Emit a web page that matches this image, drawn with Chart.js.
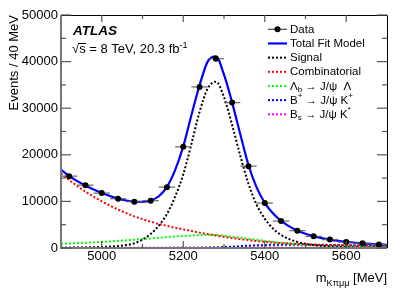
<!DOCTYPE html>
<html>
<head>
<meta charset="utf-8">
<script src="https://cdn.jsdelivr.net/npm/chart.js@4.4.1/dist/chart.umd.min.js"></script>
<style>
  html, body { margin: 0; padding: 0; background: #fff; }
  #wrap { width: 407px; height: 292px; }
</style>
</head>
<body>
<div id="wrap"><canvas id="grafico" width="407" height="292"></canvas></div>
<script>
  // Data points: bin centres (MeV) and events per 40 MeV bin
  const binCenters = [4920, 4960, 5000, 5040, 5080, 5120, 5160, 5200, 5240, 5280,
                      5320, 5360, 5400, 5440, 5480, 5520, 5560, 5600, 5640, 5680];
  const dataEvents = [15420, 13490, 11780, 10580, 9930, 10150, 13060, 21710, 34560, 40620,
                      31200, 17560, 9640, 5780, 3720, 2500, 1800, 1280, 1000, 730];
  const binHalfWidth = 20;

  // Fit components, every 20 MeV
  const curveMass = [4900, 4920, 4940, 4960, 4980, 5000, 5020, 5040, 5060, 5080,
                     5100, 5120, 5140, 5160, 5180, 5200, 5220, 5240, 5260, 5280,
                     5300, 5320, 5340, 5360, 5380, 5400, 5420, 5440, 5460, 5480,
                     5500, 5520, 5540, 5560, 5580, 5600, 5620, 5640, 5660, 5680, 5700];
  const totalFit = [16800, 15450, 14350, 13400, 12550, 11800, 11150, 10600, 10200, 9950,
                    9900, 10200, 11100, 13100, 16700, 21800, 28500, 34900, 40000, 41100,
                    37200, 31200, 24400, 17800, 13000, 9700, 7450, 5800, 4650, 3750,
                    3050, 2520, 2120, 1800, 1520, 1300, 1130, 990, 870, 760, 680];
  const signal = [60, 80, 100, 130, 170, 220, 300, 420, 620, 1000,
                  1800, 3000, 4800, 7300, 11000, 15800, 22300, 29200, 34200, 35700,
                  32400, 26400, 19800, 13800, 9300, 6300, 4200, 2800, 1900, 1300,
                  900, 620, 450, 330, 250, 190, 150, 120, 100, 80, 70];
  const combinatorial = [16000, 14600, 13300, 12100, 11000, 10000, 9100, 8250, 7500, 6800,
                         6200, 5650, 5150, 4750, 4350, 4000, 3650, 3300, 3000, 2700,
                         2400, 2150, 1900, 1700, 1500, 1330, 1180, 1060, 960, 880,
                         810, 750, 700, 660, 630, 600, 580, 560, 540, 520, 500];
  const lambdaB = [900, 970, 1050, 1130, 1220, 1320, 1420, 1530, 1650, 1780,
                   1920, 2060, 2200, 2340, 2470, 2580, 2680, 2760, 2800, 2780,
                   2650, 2450, 2220, 1980, 1750, 1530, 1320, 1130, 960, 820,
                   700, 600, 510, 430, 370, 320, 270, 230, 200, 170, 150];
  const bPlus = [0, 0, 0, 0, 0, 0, 0, 0, 0, 0,
                 0, 0, 0, 0, 0, 0, 0, 20, 60, 120,
                 200, 300, 400, 500, 580, 640, 680, 700, 700, 690,
                 670, 650, 630, 610, 590, 570, 550, 530, 510, 490, 470];
  const bS = [30, 30, 35, 35, 40, 40, 45, 50, 55, 60,
              65, 70, 75, 80, 85, 90, 95, 100, 105, 110,
              110, 110, 105, 100, 95, 90, 85, 80, 75, 70,
              65, 60, 55, 50, 45, 40, 38, 36, 34, 32, 30];

  // Axes
  const xMin = 4900, xMax = 5700;
  const yMin = 0, yMax = 50000;
  const xTicks = [5000, 5200, 5400, 5600];
  const xMinorTicks = [5100, 5300, 5500];
  const yTicks = [0, 10000, 20000, 30000, 40000, 50000];
  const yMinorTicks = [5000, 15000, 25000, 35000, 45000];
  const xTitle = "m_{Kπμμ} [MeV]";
  const yTitle = "Events / 40 MeV";

  // Labels
  const atlasLabel = "ATLAS";
  const energyLabel = "s = 8 TeV, 20.3 fb^{-1}";
  const legendLabels = ["Data", "Total Fit Model", "Signal", "Combinatorial",
                        "Λ_{b} → J/ψ  Λ", "B^{+} → J/ψ K^{+}", "B_{s} → J/ψ K^{*}"];
  const legendColors = ["#000000", "#0000ff", "#000000", "#ff0000", "#00ff00", "#0000ff", "#ff00ff"];

  const fuente = '"Liberation Sans", Arial, Helvetica, sans-serif';

  // texto con _{} y ^{} como en ROOT
  function drawRich(ctx, text, x, y, size, align) {
    const parts = [];
    const re = /([_^])\{([^}]*)\}|([^_^]+)/g;
    let m;
    while ((m = re.exec(text))) {
      if (m[1]) parts.push({ t: m[2], kind: m[1] });
      else parts.push({ t: m[3], kind: "" });
    }
    const fontFor = (k) => (k ? size * 0.7 : size) + "px " + fuente;
    let w = 0;
    parts.forEach((p) => {
      ctx.font = fontFor(p.kind);
      p.w = ctx.measureText(p.t).width;
      w += p.w;
    });
    let cx = align === "right" ? x - w : x;
    ctx.textAlign = "left";
    parts.forEach((p) => {
      ctx.font = fontFor(p.kind);
      const dy = p.kind === "_" ? size * 0.3 : p.kind === "^" ? -size * 0.4 : 0;
      ctx.fillText(p.t, cx, y + dy);
      cx += p.w;
    });
    return w;
  }

  // error bars of the data (dibujadas justo antes de los puntos)
  const errorBars = {
    id: "errorBars",
    beforeDatasetDraw(chart, args) {
      if (args.index !== 0) return;
      const { ctx, scales: { x, y } } = chart;
      ctx.save();
      ctx.strokeStyle = "#666";
      ctx.lineWidth = 1.2;
      binCenters.forEach((m, i) => {
        const py = y.getPixelForValue(dataEvents[i]);
        ctx.beginPath();
        ctx.moveTo(x.getPixelForValue(m - binHalfWidth), py);
        ctx.lineTo(x.getPixelForValue(m + binHalfWidth), py);
        ctx.stroke();
      });
      ctx.restore();
    },
  };

  // marco, ticks hacia dentro, titulos, etiquetas y leyenda
  const marco = {
    id: "marco",
    afterDraw(chart) {
      const { ctx, chartArea: a, scales: { x, y } } = chart;
      ctx.save();

      ctx.strokeStyle = "#000";
      ctx.lineWidth = 1;
      ctx.beginPath();
      ctx.moveTo(a.left, a.top + 0.5);
      ctx.lineTo(a.right + 0.5, a.top + 0.5);
      ctx.lineTo(a.right + 0.5, a.bottom);
      ctx.stroke();
      ctx.strokeStyle = "#777";
      ctx.lineWidth = 2;
      ctx.beginPath();
      ctx.moveTo(a.left, a.top);
      ctx.lineTo(a.left, a.bottom);
      ctx.lineTo(a.right, a.bottom);
      ctx.stroke();

      ctx.lineWidth = 1.2;
      ctx.strokeStyle = "#555";
      const tick = (x1, y1, x2, y2) => {
        ctx.beginPath();
        ctx.moveTo(x1, y1);
        ctx.lineTo(x2, y2);
        ctx.stroke();
      };
      xTicks.concat(xMinorTicks).forEach((v, i) => {
        const len = i < xTicks.length ? 7 : 4;
        const px = x.getPixelForValue(v);
        tick(px, a.bottom, px, a.bottom - len);
        tick(px, a.top, px, a.top + len);
      });
      yTicks.concat(yMinorTicks).forEach((v, i) => {
        const len = i < yTicks.length ? 10 : 5;
        const py = y.getPixelForValue(v);
        tick(a.left, py, a.left + len, py);
        tick(a.right, py, a.right - len, py);
      });

      ctx.fillStyle = "#000";
      ctx.textBaseline = "alphabetic";
      // x title
      drawRich(ctx, xTitle, a.right, 282, 13, "right");
      // y title
      ctx.save();
      ctx.translate(17.5, a.top);
      ctx.rotate(-Math.PI / 2);
      ctx.font = "13px " + fuente;
      ctx.textAlign = "right";
      ctx.fillText(yTitle, 0, 0);
      ctx.restore();

      // ATLAS label
      ctx.font = "italic bold 13.5px " + fuente;
      ctx.textAlign = "left";
      ctx.fillText(atlasLabel, 73, 34.5);
      ctx.font = "13px " + fuente;
      ctx.fillText("√", 72, 53);
      const rw = ctx.measureText("√").width;
      ctx.lineWidth = 1;
      ctx.strokeStyle = "#000";
      ctx.beginPath();
      ctx.moveTo(72 + rw - 1, 43.5);
      ctx.lineTo(72 + rw + 7, 43.5);
      ctx.stroke();
      drawRich(ctx, energyLabel, 72 + rw, 53, 13, "left");

      // legend
      const x0 = 268, x1 = 287, tx = 290;
      legendLabels.forEach((lab, i) => {
        const ly = 29.3 + i * 14.17;
        ctx.strokeStyle = legendColors[i];
        ctx.setLineDash([]);
        if (i === 0) {
          ctx.lineWidth = 1.2;
          ctx.strokeStyle = "#444";
          tick(x0, ly, x1, ly);
          ctx.fillStyle = "#000";
          ctx.beginPath();
          ctx.arc((x0 + x1) / 2, ly, 3, 0, Math.PI * 2);
          ctx.fill();
        } else if (i === 1) {
          ctx.lineWidth = 2.2;
          tick(x0, ly, x1, ly);
        } else {
          ctx.lineWidth = 2;
          ctx.setLineDash([2, 2]);
          tick(x0, ly, x1, ly);
          ctx.setLineDash([]);
        }
        ctx.fillStyle = "#000";
        ctx.textBaseline = "middle";
        drawRich(ctx, lab, tx, ly + 0.5, 11.5, "left");
        ctx.textBaseline = "alphabetic";
      });

      ctx.restore();
    },
  };

  function curva(label, values, color, width, dash) {
    return {
      label: label,
      data: curveMass.map((m, i) => ({ x: m, y: values[i] })),
      borderColor: color,
      backgroundColor: color,
      borderWidth: width,
      borderDash: dash,
      borderCapStyle: "butt",
      pointRadius: 0,
      fill: false,
      cubicInterpolationMode: "monotone",
    };
  }

  const ctxGrafico = document.getElementById("grafico");
  new Chart(ctxGrafico, {
    type: "line",
    data: {
      datasets: [
        {
          label: legendLabels[0],
          data: binCenters.map((m, i) => ({ x: m, y: dataEvents[i] })),
          showLine: false,
          pointRadius: 3,
          pointBackgroundColor: "#000",
          pointBorderColor: "#000",
          pointBorderWidth: 0,
        },
        curva(legendLabels[1], totalFit, "#0000ff", 2.2, []),
        curva(legendLabels[2], signal, "#000000", 2, [2, 2]),
        curva(legendLabels[3], combinatorial, "#ff0000", 2, [2, 2]),
        curva(legendLabels[4], lambdaB, "#00ff00", 2, [2, 2]),
        curva(legendLabels[5], bPlus, "#0000ff", 2, [2, 2]),
        curva(legendLabels[6], bS, "#ff00ff", 2, [2, 2]),
      ],
    },
    options: {
      responsive: false,
      animation: false,
      devicePixelRatio: 1,
      layout: { padding: { left: 0, top: 15, right: 20, bottom: 0 } },
      plugins: { legend: { display: false }, tooltip: { enabled: false } },
      scales: {
        x: {
          type: "linear",
          min: xMin,
          max: xMax,
          grid: { display: false, drawTicks: false },
          border: { display: false },
          ticks: { font: { family: fuente, size: 13 }, color: "#000", padding: 1, maxRotation: 0, autoSkip: false, callback: (v) => String(v) },
          afterBuildTicks: (s) => { s.ticks = xTicks.map((v) => ({ value: v })); },
          afterFit: (s) => { s.height = 44; },
        },
        y: {
          type: "linear",
          min: yMin,
          max: yMax,
          grid: { display: false, drawTicks: false },
          border: { display: false },
          ticks: { font: { family: fuente, size: 13 }, color: "#000", padding: 3, callback: (v) => String(v) },
          afterBuildTicks: (s) => { s.ticks = yTicks.map((v) => ({ value: v })); },
          afterFit: (s) => { s.width = 61; },
        },
      },
    },
    plugins: [errorBars, marco],
  });
</script>
</body>
</html>
